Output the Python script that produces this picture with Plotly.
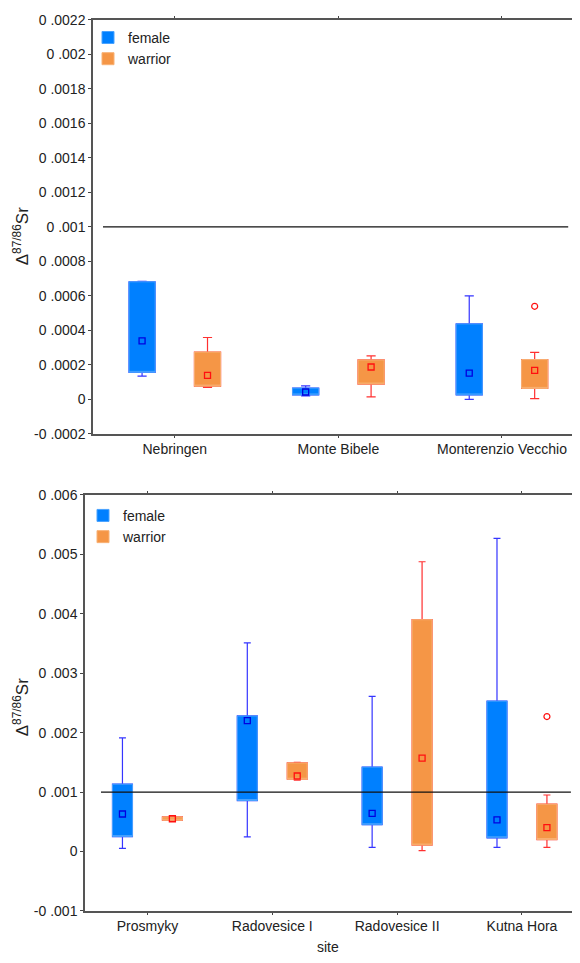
import plotly.graph_objects as go

# ---------------- data ----------------
top_sites = ["Nebringen", "Monte Bibele", "Monterenzio Vecchio"]
top_f_min = [0.000135, 0.000020, 0.000000]
top_f_q1 = [0.000157, 0.000026, 0.000026]
top_f_med = [0.000340, 0.000043, 0.000152]
top_f_q3 = [0.000682, 0.000066, 0.000438]
top_f_max = [0.000685, 0.000079, 0.000600]
top_w_min = [0.000070, 0.000015, 0.000005]
top_w_q1 = [0.000077, 0.000089, 0.000064]
top_w_med = [0.000140, 0.000188, 0.000169]
top_w_q3 = [0.000275, 0.000229, 0.000231]
top_w_max = [0.000359, 0.000252, 0.000273]
top_w_out_site = ["Monterenzio Vecchio"]
top_w_out_val = [0.000540]
top_tickvals = [-0.0002, 0, 0.0002, 0.0004, 0.0006, 0.0008, 0.001, 0.0012,
                0.0014, 0.0016, 0.0018, 0.002, 0.0022]
top_ticktext = ["-0 .0002", "0", "0 .0002", "0 .0004", "0 .0006", "0 .0008",
                "0 .001", "0 .0012", "0 .0014", "0 .0016", "0 .0018", "0 .002",
                "0 .0022"]

bot_sites = ["Prosmyky", "Radovesice I", "Radovesice II", "Kutna Hora"]
bot_f_min = [0.000052, 0.000245, 0.000070, 0.000070]
bot_f_q1 = [0.000250, 0.000857, 0.000450, 0.000230]
bot_f_med = [0.000630, 0.002200, 0.000640, 0.000530]
bot_f_q3 = [0.001133, 0.002280, 0.001420, 0.002530]
bot_f_max = [0.001910, 0.003510, 0.002610, 0.005270]
bot_w_min = [0.000520, 0.001200, 0.000014, 0.000070]
bot_w_q1 = [0.000526, 0.001215, 0.000107, 0.000200]
bot_w_med = [0.000550, 0.001270, 0.001570, 0.000400]
bot_w_q3 = [0.000581, 0.001490, 0.003900, 0.000796]
bot_w_max = [0.000590, 0.001500, 0.004875, 0.000950]
bot_w_out_site = ["Kutna Hora"]
bot_w_out_val = [0.002270]
bot_tickvals = [-0.001, 0, 0.001, 0.002, 0.003, 0.004, 0.005, 0.006]
bot_ticktext = ["-0 .001", "0", "0 .001", "0 .002", "0 .003", "0 .004",
                "0 .005", "0 .006"]

ref_value = 0.001

# ---------------- style ----------------
F_BOX = "#0080ff"
F_EDGE = "#4aa3ff"
F_WHISK = "#3535ff"
F_MARK = "#0000e0"
W_BOX = "#f59646"
W_EDGE = "#f8b276"
W_WHISK = "#ff3030"
W_MARK = "#ff1010"
FONT = "Liberation Sans, Arial, sans-serif"

W, H = 580, 963
OFF = 8  # page body margin offset


def fx(px):
    return (px - OFF) / W


def fy(py):
    return 1 - (py - OFF) / H


fig = go.Figure()


def add_group(sites, mn, q1, med, q3, mx, name, grp, box_c, edge_c, whisk_c,
              mark_c, xa, ya, legend, out_sites=None, out_vals=None):
    # whiskers
    fig.add_trace(go.Box(
        x=sites, q1=q1, median=q1, q3=q3, lowerfence=mn, upperfence=mx,
        offsetgroup=grp, fillcolor="rgba(0,0,0,0)",
        line=dict(color=whisk_c, width=1.2), whiskerwidth=0.35,
        showlegend=False, xaxis=xa, yaxis=ya, hoverinfo="skip"))
    # filled box
    fig.add_trace(go.Box(
        x=sites, q1=q1, median=q1, q3=q3, lowerfence=q1, upperfence=q3,
        offsetgroup=grp, fillcolor=box_c, line=dict(color=edge_c, width=1),
        whiskerwidth=0, name=name, showlegend=True, legend=legend,
        xaxis=xa, yaxis=ya))
    # median marker
    fig.add_trace(go.Scatter(
        x=sites, y=med, mode="markers", offsetgroup=grp,
        marker=dict(symbol="square-open", size=6, color=mark_c,
                    line=dict(width=1.3, color=mark_c)),
        showlegend=False, xaxis=xa, yaxis=ya))
    if out_sites:
        fig.add_trace(go.Scatter(
            x=out_sites, y=out_vals, mode="markers", offsetgroup=grp,
            marker=dict(symbol="circle-open", size=6, color=mark_c,
                        line=dict(width=1.2, color=mark_c)),
            showlegend=False, xaxis=xa, yaxis=ya))


add_group(top_sites, top_f_min, top_f_q1, top_f_med, top_f_q3, top_f_max,
          "female", "f", F_BOX, F_EDGE, F_WHISK, F_MARK, "x", "y", "legend")
add_group(top_sites, top_w_min, top_w_q1, top_w_med, top_w_q3, top_w_max,
          "warrior", "w", W_BOX, W_EDGE, W_WHISK, W_MARK, "x", "y", "legend",
          top_w_out_site, top_w_out_val)
add_group(bot_sites, bot_f_min, bot_f_q1, bot_f_med, bot_f_q3, bot_f_max,
          "female", "f", F_BOX, F_EDGE, F_WHISK, F_MARK, "x2", "y2", "legend2")
add_group(bot_sites, bot_w_min, bot_w_q1, bot_w_med, bot_w_q3, bot_w_max,
          "warrior", "w", W_BOX, W_EDGE, W_WHISK, W_MARK, "x2", "y2", "legend2",
          bot_w_out_site, bot_w_out_val)

tickfont = dict(family=FONT, size=14, color="#222222")
line_common = dict(showline=True, linecolor="#555555", linewidth=1.5,
                   tickcolor="#444444", showgrid=False, zeroline=False,
                   ticks="outside", tickfont=tickfont)

fig.update_layout(
    width=W, height=H, margin=dict(l=0, r=0, t=0, b=0),
    paper_bgcolor="white", plot_bgcolor="white",
    font=dict(family=FONT, color="#222222"),
    boxmode="group", boxgap=0.2, boxgroupgap=0.6,
    scattermode="group", scattergap=0.2,
    xaxis=dict(domain=[fx(93), 1], anchor="y", type="category",
               categoryorder="array", categoryarray=top_sites,
               range=[-0.5, 2.526], mirror="ticks", ticklen=2, **line_common),
    yaxis=dict(domain=[fy(433), fy(12)], anchor="x",
               range=[-0.0002, 0.0022], tickvals=top_tickvals,
               ticktext=top_ticktext, ticklen=3, **line_common),
    xaxis2=dict(domain=[fx(85), 1], anchor="y2", type="category",
                categoryorder="array", categoryarray=bot_sites,
                range=[-0.5, 3.529], mirror="ticks", ticklen=2, **line_common),
    yaxis2=dict(domain=[fy(918), fy(495)], anchor="x2",
                range=[-0.001, 0.006], tickvals=bot_tickvals,
                ticktext=bot_ticktext, ticklen=3, **line_common),
    legend=dict(x=fx(88), y=fy(14), xanchor="left", yanchor="top",
                bgcolor="rgba(0,0,0,0)", font=dict(family=FONT, size=14),
                itemwidth=30, tracegroupgap=0),
    legend2=dict(x=fx(83), y=fy(500), xanchor="left", yanchor="top",
                 bgcolor="rgba(0,0,0,0)", font=dict(family=FONT, size=14),
                 itemwidth=30, tracegroupgap=0),
    shapes=[
        dict(type="line", xref="x domain", yref="y", x0=0.0202, x1=0.96,
             y0=ref_value, y1=ref_value, line=dict(color="#111111", width=1.2)),
        dict(type="line", xref="x2 domain", yref="y2", x0=0.0318, x1=0.966,
             y0=ref_value, y1=ref_value, line=dict(color="#111111", width=1.2)),
    ],
    annotations=[
        dict(text="Δ<sup>87/86</sup>Sr", xref="paper", yref="paper",
             x=fx(21), y=fy(232), xanchor="center", yanchor="middle",
             textangle=-90, showarrow=False,
             font=dict(family=FONT, size=17, color="#222222")),
        dict(text="Δ<sup>87/86</sup>Sr", xref="paper", yref="paper",
             x=fx(21), y=fy(711), xanchor="center", yanchor="middle",
             textangle=-90, showarrow=False,
             font=dict(family=FONT, size=17, color="#222222")),
        dict(text="site", xref="paper", yref="paper",
             x=fx(328), y=fy(955), xanchor="center", yanchor="middle",
             showarrow=False,
             font=dict(family=FONT, size=14, color="#222222")),
    ],
)

fig.write_html("out.html")
